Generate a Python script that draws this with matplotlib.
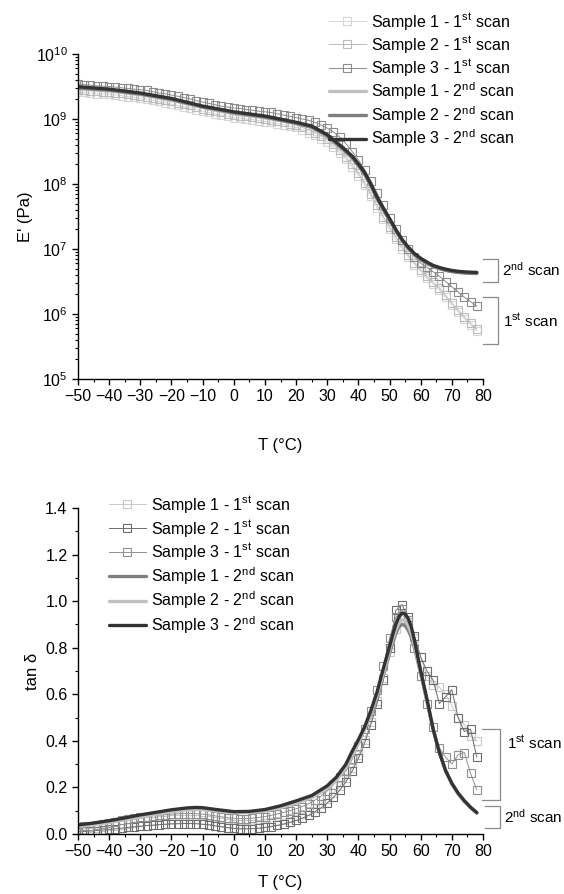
import numpy as np
import matplotlib
matplotlib.use("Agg")
import matplotlib.pyplot as plt
from matplotlib.lines import Line2D
from matplotlib.ticker import MultipleLocator, LogLocator, FormatStrFormatter, NullFormatter

plt.rcParams["font.family"] = ["Liberation Sans", "DejaVu Sans"]
plt.rcParams["mathtext.fontset"] = "custom"
plt.rcParams["mathtext.rm"] = "Liberation Sans"
plt.rcParams["mathtext.it"] = "Liberation Sans:italic"
plt.rcParams["mathtext.bf"] = "Liberation Sans:bold"

# ---- dados ----
# grade de temperatura dos pontos do 1o scan (simbolos)
T_1st = [-50, -48, -46, -44, -42, -40, -38, -36, -34, -32,
         -30, -28, -26, -24, -22, -20, -18, -16, -14, -12,
         -10, -8, -6, -4, -2, 0, 2, 4, 6, 8,
         10, 12, 14, 16, 18, 20, 22, 24, 26, 28,
         30, 32, 34, 36, 38, 40, 42, 44, 46, 48,
         50, 52, 54, 56, 58, 60, 62, 64, 66, 68,
         70, 72, 74, 76, 78]

# E' (Pa), 1o scan
E_1st_s1 = [2.63e9, 2.57e9, 2.51e9, 2.45e9, 2.43e9, 2.40e9, 2.34e9, 2.29e9, 2.21e9, 2.16e9,
            2.09e9, 2.02e9, 1.95e9, 1.86e9, 1.78e9, 1.70e9, 1.62e9, 1.55e9, 1.48e9, 1.40e9,
            1.32e9, 1.26e9, 1.20e9, 1.15e9, 1.10e9, 1.05e9, 1.02e9, 1.00e9, 9.77e8, 9.44e8,
            9.12e8, 8.91e8, 8.51e8, 8.13e8, 7.76e8, 7.41e8, 6.76e8, 6.17e8, 5.62e8, 5.01e8,
            4.47e8, 3.72e8, 3.02e8, 2.40e8, 1.82e8, 1.35e8, 9.55e7, 6.46e7, 4.27e7, 2.88e7,
            2.00e7, 1.41e7, 1.00e7, 7.59e6, 5.75e6, 4.47e6, 3.55e6, 2.88e6, 2.34e6, 1.82e6,
            1.38e6, 1.07e6, 8.51e5, 6.76e5, 5.50e5]
E_1st_s2 = [2.85e9, 2.80e9, 2.74e9, 2.68e9, 2.64e9, 2.60e9, 2.55e9, 2.50e9, 2.42e9, 2.36e9,
            2.29e9, 2.21e9, 2.14e9, 2.04e9, 1.95e9, 1.86e9, 1.78e9, 1.70e9, 1.62e9, 1.53e9,
            1.45e9, 1.38e9, 1.32e9, 1.26e9, 1.20e9, 1.15e9, 1.12e9, 1.10e9, 1.07e9, 1.04e9,
            1.00e9, 9.77e8, 9.33e8, 8.91e8, 8.51e8, 8.13e8, 7.41e8, 6.76e8, 6.17e8, 5.50e8,
            4.90e8, 4.07e8, 3.31e8, 2.63e8, 2.00e8, 1.48e8, 1.05e8, 7.08e7, 4.68e7, 3.16e7,
            2.19e7, 1.55e7, 1.10e7, 8.13e6, 6.17e6, 4.79e6, 3.80e6, 3.09e6, 2.51e6, 1.95e6,
            1.48e6, 1.15e6, 9.12e5, 7.24e5, 5.90e5]
E_1st_s3 = [3.47e9, 3.39e9, 3.31e9, 3.24e9, 3.20e9, 3.16e9, 3.09e9, 3.02e9, 2.95e9, 2.88e9,
            2.82e9, 2.75e9, 2.63e9, 2.51e9, 2.45e9, 2.34e9, 2.24e9, 2.14e9, 2.04e9, 1.91e9,
            1.82e9, 1.74e9, 1.66e9, 1.58e9, 1.53e9, 1.48e9, 1.45e9, 1.40e9, 1.36e9, 1.32e9,
            1.29e9, 1.26e9, 1.20e9, 1.15e9, 1.10e9, 1.05e9, 1.00e9, 9.55e8, 8.91e8, 8.13e8,
            7.24e8, 6.31e8, 5.25e8, 4.17e8, 3.16e8, 2.34e8, 1.66e8, 1.12e8, 7.24e7, 4.68e7,
            3.02e7, 2.00e7, 1.38e7, 1.00e7, 7.59e6, 6.03e6, 5.25e6, 4.47e6, 3.80e6, 3.16e6,
            2.63e6, 2.19e6, 1.82e6, 1.55e6, 1.32e6]

# E' (Pa), 2o scan (linhas)
T_2nd_E = [-50, -40, -30, -20, -10, 0, 10, 20, 25, 30, 35, 38,
           40, 42, 44, 46, 48, 50, 52, 54, 56, 58, 60, 62, 64, 66, 68, 70, 72, 74, 76, 78]
E_2nd_s1 = [2.95e9, 2.72e9, 2.38e9, 1.97e9, 1.52e9, 1.24e9, 1.06e9, 8.5e8, 7.4e8, 5.4e8, 3.4e8, 2.5e8,
            1.9e8, 1.4e8, 9.3e7, 5.9e7, 4.0e7, 2.75e7, 1.9e7, 1.35e7, 1.02e7, 8.1e6, 6.8e6, 6.0e6,
            5.4e6, 5.0e6, 4.7e6, 4.5e6, 4.38e6, 4.3e6, 4.25e6, 4.22e6]
E_2nd_s2 = [3.0e9, 2.78e9, 2.42e9, 2.0e9, 1.53e9, 1.25e9, 1.07e9, 8.6e8, 7.5e8, 5.5e8, 3.45e8, 2.55e8,
            1.93e8, 1.43e8, 9.5e7, 6.0e7, 4.05e7, 2.8e7, 1.92e7, 1.36e7, 1.03e7, 8.2e6, 6.9e6, 6.0e6,
            5.4e6, 5.0e6, 4.7e6, 4.5e6, 4.37e6, 4.28e6, 4.22e6, 4.2e6]
E_2nd_s3 = [3.14e9, 2.88e9, 2.51e9, 2.07e9, 1.58e9, 1.29e9, 1.11e9, 8.9e8, 7.8e8, 5.75e8, 3.63e8, 2.69e8,
            2.04e8, 1.51e8, 1.0e8, 6.3e7, 4.27e7, 2.95e7, 2.0e7, 1.41e7, 1.07e7, 8.5e6, 7.2e6, 6.3e6,
            5.6e6, 5.2e6, 4.9e6, 4.68e6, 4.54e6, 4.45e6, 4.4e6, 4.37e6]

# tan delta, 1o scan
tan_1st_s1 = [0.020, 0.022, 0.024, 0.027, 0.030, 0.033, 0.036, 0.040, 0.044, 0.048,
              0.051, 0.054, 0.057, 0.059, 0.061, 0.063, 0.064, 0.065, 0.065, 0.064,
              0.062, 0.059, 0.055, 0.051, 0.047, 0.044, 0.042, 0.041, 0.042, 0.044,
              0.047, 0.051, 0.056, 0.062, 0.069, 0.077, 0.087, 0.099, 0.113, 0.130,
              0.150, 0.175, 0.205, 0.240, 0.285, 0.340, 0.405, 0.480, 0.570, 0.670,
              0.780, 0.880, 0.940, 0.910, 0.840, 0.760, 0.680, 0.640, 0.630, 0.600,
              0.550, 0.500, 0.470, 0.420, 0.400]
tan_1st_s2 = [0.010, 0.011, 0.013, 0.015, 0.017, 0.020, 0.022, 0.025, 0.028, 0.031,
              0.034, 0.036, 0.038, 0.040, 0.042, 0.043, 0.044, 0.045, 0.045, 0.044,
              0.042, 0.039, 0.035, 0.031, 0.027, 0.024, 0.022, 0.022, 0.023, 0.025,
              0.028, 0.032, 0.037, 0.043, 0.050, 0.058, 0.068, 0.080, 0.095, 0.112,
              0.133, 0.158, 0.188, 0.225, 0.270, 0.325, 0.390, 0.470, 0.560, 0.660,
              0.800, 0.960, 0.985, 0.930, 0.850, 0.760, 0.700, 0.660, 0.560, 0.590,
              0.620, 0.500, 0.440, 0.450, 0.330]
tan_1st_s3 = [0.030, 0.033, 0.036, 0.040, 0.044, 0.048, 0.053, 0.058, 0.063, 0.067,
              0.071, 0.075, 0.078, 0.081, 0.083, 0.085, 0.087, 0.088, 0.088, 0.087,
              0.085, 0.082, 0.078, 0.074, 0.070, 0.067, 0.066, 0.066, 0.068, 0.071,
              0.075, 0.080, 0.086, 0.093, 0.100, 0.108, 0.118, 0.130, 0.145, 0.163,
              0.185, 0.212, 0.245, 0.270, 0.320, 0.380, 0.450, 0.530, 0.620, 0.720,
              0.840, 0.930, 0.965, 0.920, 0.800, 0.680, 0.560, 0.460, 0.370, 0.330,
              0.300, 0.340, 0.350, 0.260, 0.190]

# tan delta, 2o scan
T_2nd_tan = [-50, -45, -40, -35, -30, -25, -20, -15, -12, -10,
             -5, 0, 5, 10, 15, 20, 25, 30, 33, 36,
             38, 40, 42, 44, 46, 48, 50, 51, 52, 53,
             54, 55, 56, 57, 58, 60, 62, 64, 66, 68,
             70, 72, 74, 76, 78]
tan_2nd_s1 = [0.035, 0.043, 0.053, 0.064, 0.076, 0.088, 0.099, 0.107, 0.109, 0.108,
              0.100, 0.093, 0.094, 0.101, 0.115, 0.135, 0.158, 0.197, 0.235, 0.290,
              0.340, 0.395, 0.450, 0.515, 0.590, 0.680, 0.775, 0.820, 0.860, 0.890,
              0.900, 0.895, 0.875, 0.845, 0.800, 0.690, 0.570, 0.450, 0.350, 0.272,
              0.215, 0.173, 0.140, 0.113, 0.090]
tan_2nd_s2 = [0.032, 0.040, 0.050, 0.061, 0.073, 0.085, 0.096, 0.104, 0.106, 0.105,
              0.098, 0.091, 0.092, 0.099, 0.113, 0.133, 0.156, 0.195, 0.232, 0.285,
              0.335, 0.390, 0.450, 0.520, 0.595, 0.690, 0.790, 0.835, 0.875, 0.905,
              0.920, 0.915, 0.895, 0.862, 0.810, 0.695, 0.572, 0.452, 0.350, 0.272,
              0.215, 0.173, 0.140, 0.113, 0.090]
tan_2nd_s3 = [0.039, 0.047, 0.057, 0.069, 0.082, 0.093, 0.104, 0.112, 0.114, 0.113,
              0.104, 0.096, 0.097, 0.105, 0.121, 0.142, 0.165, 0.207, 0.245, 0.300,
              0.355, 0.405, 0.460, 0.530, 0.610, 0.710, 0.805, 0.855, 0.900, 0.933,
              0.948, 0.945, 0.925, 0.890, 0.830, 0.700, 0.580, 0.450, 0.350, 0.272,
              0.218, 0.176, 0.143, 0.115, 0.092]

lab_1st = ["Sample %d - 1$^{\\mathrm{st}}$ scan" % i for i in (1, 2, 3)]
lab_2nd = ["Sample %d - 2$^{\\mathrm{nd}}$ scan" % i for i in (1, 2, 3)]

W, H = 564, 894
FS = 11.5


def fx(px):
    return px / W


def fy(py):
    return 1 - py / H


def estilo_eixo(ax, pad_x):
    for s in ("top", "right"):
        ax.spines[s].set_visible(False)
    for s in ("left", "bottom"):
        ax.spines[s].set_linewidth(1.0)
    ax.tick_params(which="major", direction="out", length=4, width=1.0, labelsize=FS)
    ax.tick_params(which="minor", direction="out", length=2.5, width=0.8)
    ax.set_xlim(-50, 80)
    ax.xaxis.set_major_locator(MultipleLocator(10))
    ax.xaxis.set_minor_locator(MultipleLocator(5))
    ax.set_xlabel("T (°C)", fontsize=12, labelpad=pad_x)


def colchete(x0, x1, ytop, ybot, texto, ytexto, xtexto):
    cor = "#8a8a8a"
    fig.add_artist(Line2D([fx(x0), fx(x1), fx(x1), fx(x0)],
                          [fy(ytop), fy(ytop), fy(ybot), fy(ybot)],
                          color=cor, lw=0.9, transform=fig.transFigure))
    fig.text(fx(xtexto), fy(ytexto), texto, fontsize=11, va="center", ha="left")


fig = plt.figure(figsize=(W / 100, H / 100), dpi=100)
ax1 = fig.add_axes([fx(78), fy(379), (483 - 78) / W, (379 - 54) / H])
ax2 = fig.add_axes([fx(78), fy(834), (483 - 78) / W, (834 - 508) / H])

mk = dict(marker="s", markersize=6, markerfacecolor="none", markeredgewidth=0.8, linewidth=0.7)
leg_kw = dict(loc="upper left", bbox_transform=fig.transFigure, frameon=False, fontsize=FS,
              borderaxespad=0, borderpad=0, handlelength=2.3, handletextpad=0.3)

# ---- painel superior: E' ----
cores_1st_E = ["#d6d6d6", "#bcbcbc", "#8c8c8c"]
cores_2nd_E = ["#c0c0c0", "#7f7f7f", "#333333"]
for ys, c, lab in zip([E_1st_s1, E_1st_s2, E_1st_s3], cores_1st_E, lab_1st):
    ax1.plot(T_1st, ys, color=c, markeredgecolor=c, label=lab, **mk)
for ys, c, lab in zip([E_2nd_s1, E_2nd_s2, E_2nd_s3], cores_2nd_E, lab_2nd):
    ax1.plot(T_2nd_E, ys, color=c, lw=2.4, label=lab, solid_capstyle="round")

ax1.set_yscale("log")
ax1.set_ylim(1e5, 1e10)
ax1.yaxis.set_major_locator(LogLocator(base=10, numticks=12))
ax1.yaxis.set_minor_locator(LogLocator(base=10, subs=np.arange(2, 10), numticks=12))
ax1.yaxis.set_minor_formatter(NullFormatter())
estilo_eixo(ax1, 24)
ax1.set_ylabel("E' (Pa)", fontsize=12, labelpad=2)
ax1.legend(bbox_to_anchor=(fx(329), fy(11)), labelspacing=0.13, **leg_kw)

colchete(483, 498, 259, 282, "2$^{\\mathrm{nd}}$ scan", 270, 502)
colchete(483, 498, 297, 344, "1$^{\\mathrm{st}}$ scan", 321, 503)

# ---- painel inferior: tan delta ----
cores_1st_t = ["#c8c8c8", "#6e6e6e", "#909090"]
cores_2nd_t = ["#7f7f7f", "#c0c0c0", "#333333"]
for ys, c, lab in zip([tan_1st_s1, tan_1st_s2, tan_1st_s3], cores_1st_t, lab_1st):
    ax2.plot(T_1st, ys, color=c, markeredgecolor=c, label=lab, **mk)
for ys, c, lab in zip([tan_2nd_s1, tan_2nd_s2, tan_2nd_s3], cores_2nd_t, lab_2nd):
    ax2.plot(T_2nd_tan, ys, color=c, lw=2.4, label=lab, solid_capstyle="round")

ax2.set_ylim(0, 1.4)
ax2.yaxis.set_major_locator(MultipleLocator(0.2))
ax2.yaxis.set_minor_locator(MultipleLocator(0.1))
ax2.yaxis.set_major_formatter(FormatStrFormatter("%.1f"))
estilo_eixo(ax2, 11)
ax2.set_ylabel("tan δ", fontsize=12, labelpad=4)
ax2.legend(bbox_to_anchor=(fx(109), fy(494)), labelspacing=0.17, **leg_kw)

colchete(482, 500, 729, 800, "1$^{\\mathrm{st}}$ scan", 743, 507)
colchete(485, 500, 806, 828, "2$^{\\mathrm{nd}}$ scan", 817, 504)

fig.savefig("out.png", dpi=100)
